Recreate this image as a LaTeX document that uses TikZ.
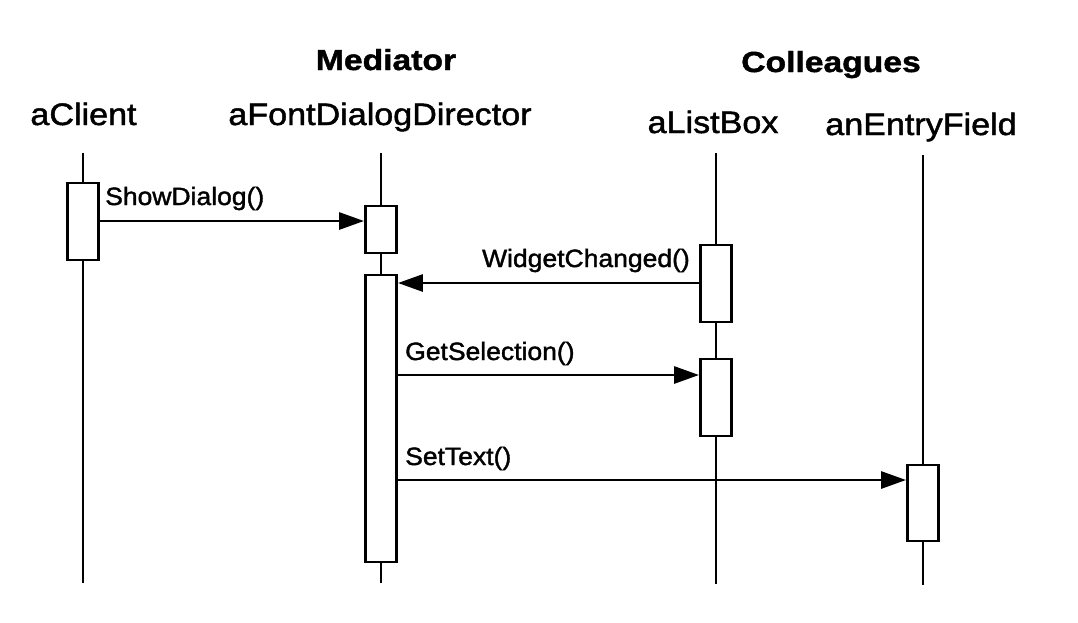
\documentclass[tikz,border=0pt]{standalone}
\usepackage{fontspec}
\setmainfont{Liberation Sans}
\newfontfamily\namefont{Liberation Sans}[FakeStretch=1.1,FakeBold=1.5]
\newfontfamily\headfont{Liberation Sans}[FakeStretch=1.16,FakeBold=1.5]
\newfontfamily\labelfont{Liberation Sans}[FakeStretch=1.06,FakeBold=1.5]
\usetikzlibrary{arrows.meta}
\begin{document}
\begin{tikzpicture}[x=1pt,y=-1pt,
  lifeline/.style={line width=2.9pt},
  actbox/.style={draw, line width=2.9pt, fill=white, minimum width=31pt, inner sep=0pt},
  msg/.style={line width=2.9pt, -{Triangle[length=25pt,width=17pt]}},
  objname/.style={font=\namefont\fontsize{31}{34}\selectfont, anchor=base, inner sep=0pt},
  header/.style={font=\headfont\bfseries\fontsize{29}{32}\selectfont, anchor=base, inner sep=0pt},
  msglabel/.style={font=\labelfont\fontsize{25}{28}\selectfont, inner sep=0pt}]
\useasboundingbox (0,0) rectangle (1078,622);
\fill[white] (0,0) rectangle (1078,622);

% headers and object names
\node[header] (med) at (386,70) {Mediator};
\node[header] (col) at (831,72) {Colleagues};
\node[objname] (client) at (83.5,125) {aClient};
\node[objname] (director) at (380,125) {aFontDialogDirector};
\node[objname] (listbox) at (713,133) {aListBox};
\node[objname] (entry) at (921,135) {anEntryField};

% lifeline ends
\coordinate (ctop) at (83,153);   \coordinate (cbot) at (83,583);
\coordinate (dtop) at (381,153);  \coordinate (dbot) at (381,583);
\coordinate (ltop) at (716,153);  \coordinate (lbot) at (716,584);
\coordinate (etop) at (923,155);  \coordinate (ebot) at (923,585);

\draw[lifeline] (ctop) -- (cbot);
\draw[lifeline] (dtop) -- (dbot);
\draw[lifeline] (ltop) -- (lbot);
\draw[lifeline] (etop) -- (ebot);

% activation boxes
\node[actbox, minimum height=77pt] (cbox) at (83,221.5) {};
\node[actbox, minimum height=47pt] (dbox1) at (381,229.5) {};
\node[actbox, minimum height=287pt] (dbox2) at (381,418.5) {};
\node[actbox, minimum height=77pt] (lbox1) at (716,283.5) {};
\node[actbox, minimum height=77pt] (lbox2) at (716,397.5) {};
\node[actbox, minimum height=76pt] (ebox) at (923,503) {};

% message levels
\coordinate (m1) at (0,221);
\coordinate (m2) at (0,283);
\coordinate (m3) at (0,375);
\coordinate (m4) at (0,480);

\draw[msg] (cbox.east |- m1) -- (dbox1.west |- m1);
\draw[msg] (lbox1.west |- m2) -- (dbox2.east |- m2);
\draw[msg] (dbox2.east |- m3) -- (lbox2.west |- m3);
\draw[msg] (dbox2.east |- m4) -- (ebox.west |- m4);

% message labels
\node[msglabel, anchor=base west] (l1) at (105,205) {ShowDialog()};
\node[msglabel, anchor=base east] (l2) at (690,267) {WidgetChanged()};
\node[msglabel, anchor=base west] (l3) at (405,360) {GetSelection()};
\node[msglabel, anchor=base west] (l4) at (405,465) {SetText()};
\end{tikzpicture}
\end{document}
